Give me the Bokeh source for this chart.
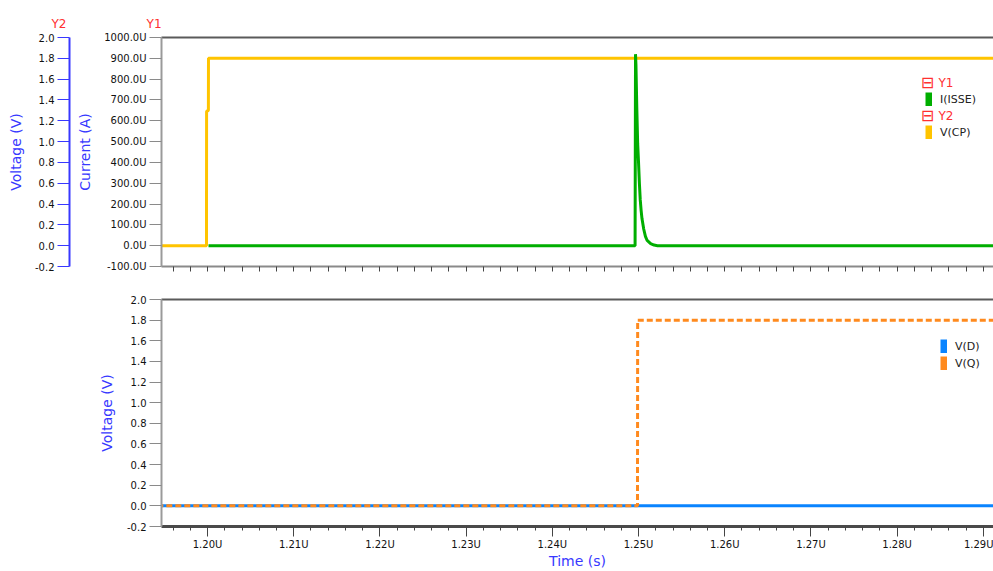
from bokeh.plotting import figure
from bokeh.models import (Range1d, LinearAxis, FixedTicker, PrintfTickFormatter,
                          Label, Legend, LegendItem, Title)
from bokeh.layouts import column
from bokeh.embed import file_html
from bokeh.resources import INLINE

# ---------------- data (time in µs, current in µA, voltage in V) ----------------
t_cp = [1.19, 1.19988, 1.19989, 1.20010, 1.20011, 1.30]
v_cp = [0.0, 0.0, 1.29, 1.30, 1.80, 1.80]

t_isse = [1.20011, 1.2496, 1.24965, 1.2497, 1.2498, 1.2499, 1.2500, 1.2501,
          1.2502, 1.2503, 1.2504, 1.2506, 1.2508, 1.2510, 1.2514, 1.2518, 1.2522, 1.30]
i_isse = [0, 0, 920, 870, 660, 490, 400, 300, 220, 170, 130, 80, 45, 25, 10, 3, 0, 0]

t_d = [1.19, 1.30]
v_d = [0.0, 0.0]

t_q = [1.19, 1.24988, 1.24990, 1.30]
v_q = [0.0, 0.0, 1.80, 1.80]

x_major_ticks = [1.20, 1.21, 1.22, 1.23, 1.24, 1.25, 1.26, 1.27, 1.28, 1.29]
x_minor_ticks = [round(1.196 + 0.002 * i, 3) for i in range(48)]
y1_ticks = [-100, 0, 100, 200, 300, 400, 500, 600, 700, 800, 900, 1000]
v_ticks = [-0.2, 0.0, 0.2, 0.4, 0.6, 0.8, 1.0, 1.2, 1.4, 1.6, 1.8, 2.0]

# ---------------- style ----------------
FONT = "DejaVu Sans"
GREEN = "#00AE00"
YELLOW = "#FFC400"
BLUE = "#0A84FF"
ORANGE = "#FF8A1E"
LBLUE = "#3838FF"
RED = "#FF3030"

xr = Range1d(1.19466, 1.29118)


def style_x(ax):
    ax.major_tick_out = 10
    ax.major_tick_in = 0
    ax.minor_tick_out = 4
    ax.minor_tick_in = 0
    ax.major_tick_line_color = "#444444"
    ax.minor_tick_line_color = "#444444"
    ax.major_label_text_font = FONT
    ax.major_label_text_color = "#111111"
    ax.major_label_standoff = 2
    ax.major_label_text_font_size = "10px"


def style_y(ax, ticks, fmt, label, standoff, line_color, tick_color):
    ax.ticker = FixedTicker(ticks=ticks, minor_ticks=[])
    ax.formatter = PrintfTickFormatter(format=fmt)
    ax.major_tick_out = 12
    ax.major_tick_in = 0
    ax.minor_tick_out = 0
    ax.minor_tick_in = 0
    ax.major_tick_line_color = tick_color
    ax.axis_line_color = line_color
    ax.axis_line_width = 2
    ax.major_label_text_font = FONT
    ax.major_label_text_font_size = "10px"
    ax.major_label_text_color = "#111111"
    ax.major_label_standoff = 3
    ax.axis_label = label
    ax.axis_label_text_font = FONT
    ax.axis_label_text_font_size = "14px"
    ax.axis_label_text_font_style = "normal"
    ax.axis_label_text_color = LBLUE
    ax.axis_label_standoff = standoff


def top_border(p):
    ax = LinearAxis(ticker=FixedTicker(ticks=[], minor_ticks=[]), major_tick_out=0, major_tick_in=0,
                    minor_tick_out=0, minor_tick_in=0,
                    axis_line_color="#5A5A5A", axis_line_width=2)
    p.add_layout(ax, "above")


# ---------------- top plot ----------------
top = figure(width=993, height=282, x_range=xr, y_range=Range1d(-100, 1000),
             output_backend="svg", toolbar_location=None,
             min_border_left=161, min_border_right=0, min_border_top=37, min_border_bottom=16)
top.outline_line_color = None
top.grid.visible = False
top.extra_y_ranges = {"y2": Range1d(-0.2, 2.0)}

style_x(top.xaxis[0])
# top panel: tick marks only, no tick labels
top.xaxis[0].ticker = FixedTicker(ticks=[], minor_ticks=sorted(set(x_minor_ticks + x_major_ticks)))
top.xaxis[0].minor_tick_out = 5
top.xaxis[0].axis_line_color = "#8A8A8A"
top.xaxis[0].axis_line_width = 2
style_y(top.yaxis[0], y1_ticks, "%.1fU", "Current (A)", 8, "#9A9A9A", "#8A8A8A")

# invisible gap between the Y1 and Y2 axes
spacer = LinearAxis(ticker=FixedTicker(ticks=[], minor_ticks=[0]), major_tick_out=5, major_tick_in=0,
                    minor_tick_out=5, minor_tick_in=0,
                    major_label_standoff=0, axis_line_color=None, major_tick_line_color=None,
                    minor_tick_line_color=None)
top.add_layout(spacer, "left")

y2 = LinearAxis(y_range_name="y2")
style_y(y2, v_ticks, "%.1f", "Voltage (V)", 8, LBLUE, LBLUE)
top.add_layout(y2, "left")
top_border(top)

# axis tags "Y2" and "Y1" above the two axes
top.add_layout(Title(text="Y2" + "\u00a0" * 21 + "Y1", align="left", offset=-110, standoff=13,
                     text_font=FONT, text_font_size="12px", text_font_style="normal",
                     text_color=RED), "above")

top.line(t_cp, v_cp, y_range_name="y2", line_color=YELLOW, line_width=3)
top.line(t_isse, i_isse, line_color=GREEN, line_width=3)

# legend swatches: hidden copies of the series drawn as thick short strokes
sw_isse = top.line(t_isse, i_isse, line_color=GREEN, line_width=14, line_cap="butt", visible=False)
sw_cp = top.line(t_cp, v_cp, y_range_name="y2", line_color=YELLOW, line_width=14,
                 line_cap="butt", visible=False)

leg_top = Legend(items=[LegendItem(label="I(ISSE)", renderers=[sw_isse]),
                        LegendItem(label="V(CP)", renderers=[sw_cp])],
                 location=(764, 127), glyph_width=7, glyph_height=14, label_height=14,
                 label_standoff=8, spacing=19, padding=0, margin=0,
                 border_line_color=None, background_fill_alpha=0,
                 label_text_font=FONT, label_text_font_size="11px", label_text_color="#222222")
top.add_layout(leg_top, "center")

for txt, yy in (("Y1", 184), ("Y2", 151)):
    top.add_layout(Label(x=766, y=yy, x_units="screen", y_units="screen", text="⊟",
                         text_font=FONT, text_font_size="16px", text_color=RED,
                         text_align="center", text_baseline="middle"))
    top.add_layout(Label(x=777, y=yy, x_units="screen", y_units="screen", text=txt,
                         text_font=FONT, text_font_size="12px", text_color=RED,
                         text_align="left", text_baseline="middle"))

# ---------------- bottom plot ----------------
bot = figure(width=993, height=289, x_range=xr, y_range=Range1d(-0.2, 2.0),
             output_backend="svg", toolbar_location=None,
             min_border_left=161, min_border_right=0, min_border_top=17, min_border_bottom=43)
bot.outline_line_color = None
bot.grid.visible = False

style_x(bot.xaxis[0])
bot.xaxis[0].ticker = FixedTicker(ticks=x_major_ticks, minor_ticks=x_minor_ticks)
bot.xaxis[0].formatter = PrintfTickFormatter(format="%.2fU")
bot.xaxis[0].axis_line_color = "#4A4A4A"
bot.xaxis[0].axis_line_width = 3
bot.xaxis[0].axis_label = "Time (s)"
bot.xaxis[0].axis_label_text_font = FONT
bot.xaxis[0].axis_label_text_font_size = "14px"
bot.xaxis[0].axis_label_text_font_style = "normal"
bot.xaxis[0].axis_label_text_color = LBLUE
bot.xaxis[0].axis_label_standoff = 0
style_y(bot.yaxis[0], v_ticks, "%.1f", "Voltage (V)", 9, "#9A9A9A", "#8A8A8A")
top_border(bot)

bot.line(t_d, v_d, line_color=BLUE, line_width=3)
bot.line(t_q, v_q, line_color=ORANGE, line_width=3, line_dash="6 3")

sw_d = bot.line(t_d, v_d, line_color=BLUE, line_width=14, line_cap="butt", visible=False)
sw_q = bot.line(t_q, v_q, line_color=ORANGE, line_width=14, line_cap="butt", visible=False)
leg_bot = Legend(items=[LegendItem(label="V(D)", renderers=[sw_d]),
                        LegendItem(label="V(Q)", renderers=[sw_q])],
                 location=(779, 156), glyph_width=7, glyph_height=14, label_height=14,
                 label_standoff=8, spacing=3, padding=0, margin=0,
                 border_line_color=None, background_fill_alpha=0,
                 label_text_font=FONT, label_text_font_size="11px", label_text_color="#222222")
bot.add_layout(leg_bot, "center")

layout = column(top, bot, spacing=0)
open("out.html", "w").write(file_html(layout, INLINE))
